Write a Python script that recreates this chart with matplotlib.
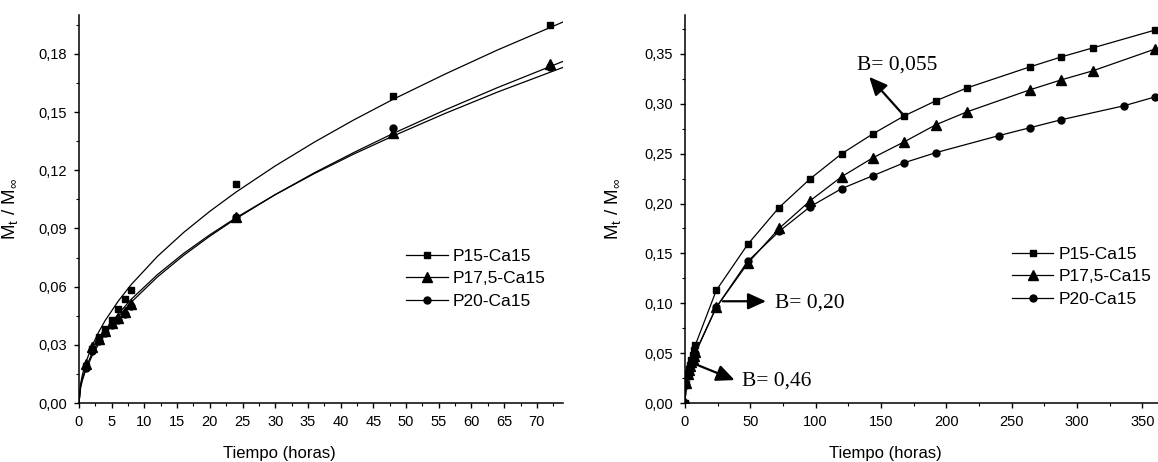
import numpy as np
import matplotlib.pyplot as plt
from matplotlib.ticker import MultipleLocator, FuncFormatter

plt.rcParams['font.family'] = ['Liberation Sans', 'DejaVu Sans']
plt.rcParams['mathtext.fontset'] = 'custom'
plt.rcParams['mathtext.rm'] = 'Liberation Sans'
plt.rcParams['mathtext.it'] = 'Liberation Sans'

# measured points, short times (horas)
t_short = [1, 2, 3, 4, 5, 6, 7, 8, 24, 48, 72]
p15_short = [0.019, 0.028, 0.034, 0.038, 0.043, 0.0485, 0.0536, 0.0583, 0.113, 0.158, 0.195]
p175_short = [0.020, 0.029, 0.033, 0.037, 0.041, 0.044, 0.047, 0.051, 0.096, 0.139, 0.175]
p20_short = [0.018, 0.027, 0.032, 0.036, 0.040, 0.043, 0.046, 0.050, 0.096, 0.142, 0.173]

# fitted curves
t_fit = [0, 0.25, 0.5, 1, 2, 3, 4, 6, 8, 12, 16, 20, 24, 30, 36, 42, 48, 56, 64, 74]
p15_fit = [0, 0.0099, 0.0142, 0.0205, 0.0295, 0.0365, 0.0425, 0.0525, 0.0611, 0.0756, 0.0879,
           0.0988, 0.1087, 0.1222, 0.1345, 0.1459, 0.1565, 0.1696, 0.1820, 0.1964]
p175_fit = [0, 0.0078, 0.0114, 0.0167, 0.0243, 0.0304, 0.0356, 0.0445, 0.0520, 0.0650, 0.0761,
            0.0860, 0.0950, 0.1074, 0.1187, 0.1291, 0.1389, 0.1511, 0.1626, 0.1761]
p20_fit = [0, 0.0086, 0.0124, 0.0178, 0.0257, 0.0318, 0.0371, 0.0459, 0.0535, 0.0662, 0.0771,
           0.0867, 0.0955, 0.1074, 0.1183, 0.1283, 0.1376, 0.1493, 0.1603, 0.1730]

# long time series (right panel)
t_p15 = [0, 1, 2, 3, 4, 5, 6, 7, 8, 24, 48, 72, 96, 120, 144, 168, 192, 216, 264, 288, 312, 360]
p15_long = [0, 0.019, 0.028, 0.034, 0.038, 0.043, 0.0485, 0.0536, 0.0583, 0.113, 0.159, 0.196,
            0.225, 0.250, 0.270, 0.288, 0.303, 0.316, 0.337, 0.347, 0.356, 0.374]
t_p175 = [0, 1, 2, 3, 4, 5, 6, 7, 8, 24, 48, 72, 96, 120, 144, 168, 192, 216, 264, 288, 312, 360]
p175_long = [0, 0.020, 0.029, 0.033, 0.037, 0.041, 0.044, 0.047, 0.051, 0.096, 0.140, 0.175,
             0.203, 0.227, 0.246, 0.262, 0.279, 0.292, 0.314, 0.324, 0.333, 0.355]
t_p20 = [0, 1, 2, 3, 4, 5, 6, 7, 8, 24, 48, 72, 96, 120, 144, 168, 192, 240, 264, 288, 336, 360]
p20_long = [0, 0.018, 0.027, 0.032, 0.036, 0.040, 0.043, 0.046, 0.050, 0.096, 0.142, 0.172,
            0.197, 0.215, 0.228, 0.241, 0.251, 0.268, 0.276, 0.284, 0.298, 0.307]

labels = ['P15-Ca15', 'P17,5-Ca15', 'P20-Ca15']
markers = ['s', '^', 'o']
msizes = [4.5, 7, 5]


def style_axes(ax, xmaj, xmin, ymaj, ymin, ydec):
    ax.spines['top'].set_visible(False)
    ax.spines['right'].set_visible(False)
    ax.xaxis.set_major_locator(MultipleLocator(xmaj))
    ax.xaxis.set_minor_locator(MultipleLocator(xmin))
    ax.yaxis.set_major_locator(MultipleLocator(ymaj))
    ax.yaxis.set_minor_locator(MultipleLocator(ymin))
    ax.yaxis.set_major_formatter(FuncFormatter(lambda v, p: ('%.*f' % (ydec, v)).replace('.', ',')))
    ax.tick_params(which='major', direction='out', length=3.5, width=1, labelsize=10.5, pad=5)
    ax.tick_params(which='minor', direction='out', length=2, width=0.8)
    for s in ['left', 'bottom']:
        ax.spines[s].set_linewidth(1.1)
    ax.set_xlabel('Tiempo (horas)', fontsize=12)
    ax.set_ylabel(r'M$_t$ / M$_\infty$', fontsize=13.5)


fig = plt.figure(figsize=(11.58, 4.62), dpi=100)
ax1 = fig.add_axes([0.0682, 0.1277, 0.418, 0.8398])
ax2 = fig.add_axes([0.5915, 0.1277, 0.4085, 0.8398])

# left panel: points + fitted curves
fits = [p15_fit, p175_fit, p20_fit]
pts = [p15_short, p175_short, p20_short]
for i in range(3):
    ax1.plot(t_fit, fits[i], color='k', lw=0.9)
    ax1.plot(t_short, pts[i], ls='none', marker=markers[i], ms=msizes[i], color='k')
    ax1.plot([], [], color='k', lw=0.9, marker=markers[i], ms=msizes[i], label=labels[i])
ax1.set_xlim(0, 74)
ax1.set_ylim(0, 0.2)
style_axes(ax1, 5, 2.5, 0.03, 0.015, 2)
ax1.xaxis.set_label_coords(0.415, -0.11)
ax1.yaxis.set_label_coords(-0.122, 0.5)
ax1.legend(loc='upper left', bbox_to_anchor=(0.676, 0.398), frameon=False, fontsize=12.5,
           borderpad=0, borderaxespad=0, handlelength=2.4, handletextpad=0.3, labelspacing=0.42)

# right panel: long time data
ts = [t_p15, t_p175, t_p20]
ys = [p15_long, p175_long, p20_long]
for i in range(3):
    ax2.plot(ts[i], ys[i], color='k', lw=0.9, marker=markers[i], ms=msizes[i], label=labels[i])
ax2.set_xlim(0, 362)
ax2.set_ylim(0, 0.389)
style_axes(ax2, 50, 25, 0.05, 0.025, 2)
ax2.xaxis.set_label_coords(0.423, -0.11)
ax2.yaxis.set_label_coords(-0.131, 0.5)
ax2.legend(loc='upper left', bbox_to_anchor=(0.691, 0.403), frameon=False, fontsize=12.5,
           borderpad=0, borderaxespad=0, handlelength=2.4, handletextpad=0.3, labelspacing=0.42)

arrow = dict(arrowstyle='-|>,head_length=0.55,head_width=0.25', color='k', lw=1.6,
             mutation_scale=20, shrinkA=0, shrinkB=0)
serif = dict(family='Liberation Serif', fontsize=15.5, va='center', ha='left')
ax2.annotate('', xy=(141, 0.327), xytext=(167, 0.289), arrowprops=arrow)
ax2.text(132, 0.339, 'B= 0,055', **serif)
ax2.annotate('', xy=(62, 0.102), xytext=(29, 0.102), arrowprops=arrow)
ax2.text(69, 0.100, 'B= 0,20', **serif)
ax2.annotate('', xy=(38, 0.023), xytext=(6, 0.040), arrowprops=arrow)
ax2.text(44, 0.022, 'B= 0,46', **serif)

fig.savefig('out.png', dpi=100)
